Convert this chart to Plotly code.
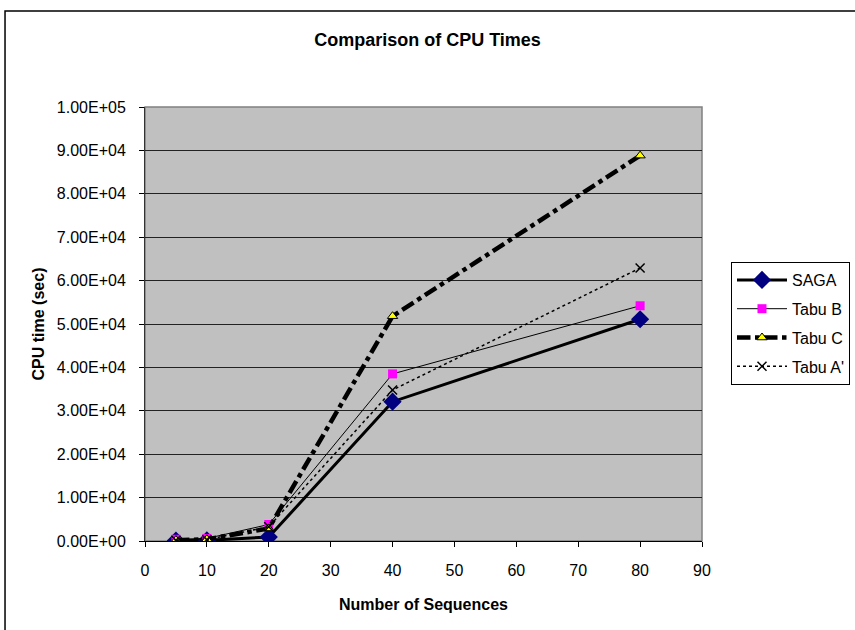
import plotly.graph_objects as go

x_vals = [5, 10, 20, 40, 80]
saga = [100, 150, 900, 32100, 51100]
tabu_b = [400, 600, 3800, 38500, 54200]
tabu_c = [200, 400, 2900, 51800, 88800]
tabu_a = [150, 300, 3300, 34800, 62900]

y_ticks = [i * 10000 for i in range(11)]
y_tick_text = [f"{v:.2E}" for v in y_ticks]
x_ticks = list(range(0, 100, 10))

FONT = "Liberation Sans, Arial, sans-serif"

fig = go.Figure()
fig.add_trace(go.Scatter(
    x=x_vals, y=saga, name="SAGA", mode="lines+markers", legendgroup="a",
    line=dict(color="black", width=3),
    marker=dict(symbol="diamond", color="#000080", size=14, line=dict(width=0))))
fig.add_trace(go.Scatter(
    x=x_vals, y=tabu_b, name="Tabu B", mode="lines+markers", legendgroup="b",
    line=dict(color="black", width=1),
    marker=dict(symbol="square", color="#FF00FF", size=9, line=dict(width=0))))
fig.add_trace(go.Scatter(
    x=x_vals, y=tabu_c, name="Tabu C", mode="lines+markers", legendgroup="c",
    line=dict(color="black", width=4.5, dash="dashdot"),
    marker=dict(symbol="triangle-up", color="#FFFF00", size=9,
                line=dict(color="black", width=1))))
fig.add_trace(go.Scatter(
    x=x_vals, y=tabu_a, name="Tabu A'", mode="lines+markers", legendgroup="d",
    line=dict(color="black", width=1.5, dash="dot"),
    marker=dict(symbol="x-thin", color="black", size=9,
                line=dict(color="black", width=1.5))))

fig.update_layout(
    width=855, height=630,
    margin=dict(l=145, r=153, t=107, b=89, autoexpand=False),
    paper_bgcolor="white",
    plot_bgcolor="#C0C0C0",
    font=dict(family=FONT, size=16, color="black"),
    title=dict(text="<b>Comparison of CPU Times</b>", x=0.5, xanchor="center",
               y=1 - 40 / 630, yanchor="middle", font=dict(size=18)),
    showlegend=True,
    legend=dict(xref="container", yref="container",
                x=731 / 855, y=1 - 262 / 630, xanchor="left", yanchor="top",
                bgcolor="white", bordercolor="black", borderwidth=1,
                font=dict(size=16), tracegroupgap=5, itemwidth=50),
    shapes=[dict(type="rect", xref="paper", yref="paper",
                 x0=-0.2513, x1=1.6, y0=-0.5, y1=1.2212,
                 line=dict(color="black", width=1.5), layer="below")],
)

fig.update_xaxes(
    range=[0, 90], tickvals=x_ticks, ticks="outside", ticklen=5,
    tickcolor="black", showline=True, linecolor="black", linewidth=1,
    mirror=False, showgrid=False, zeroline=False, ticklabelstandoff=10,
    automargin=False,
    title=dict(text="<b>Number of Sequences</b>", standoff=20, font=dict(size=16)),
)
fig.update_yaxes(
    range=[0, 100000], tickvals=y_ticks, ticktext=y_tick_text,
    ticks="outside", ticklen=5, tickcolor="black", ticklabelstandoff=10,
    showline=True, linecolor="#333333", linewidth=1, automargin=False,
    showgrid=True, gridcolor="#222222", gridwidth=1, zeroline=False,
    title=dict(text="<b>CPU time (sec)</b>", standoff=8, font=dict(size=16)),
)
fig.add_shape(type="rect", xref="paper", yref="paper", x0=0, x1=1, y0=0, y1=1,
              line=dict(color="#808080", width=1.5), layer="below")

fig.write_html("out.html")
